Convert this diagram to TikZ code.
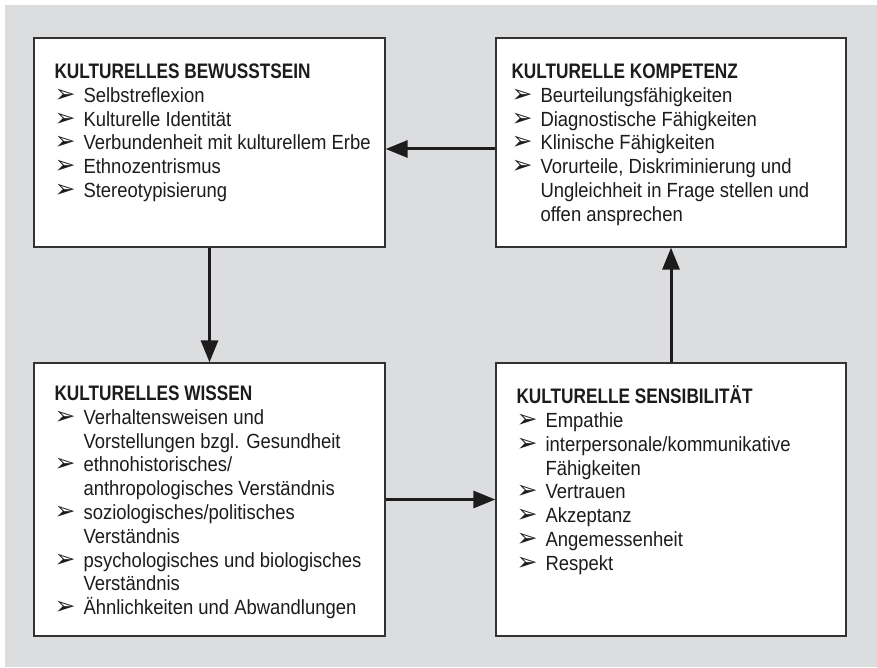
\documentclass[tikz,border=0pt]{standalone}
\usepackage{fontspec}
\setmainfont{Liberation Sans}[FakeStretch=0.9]
\newfontfamily\titelfont{Liberation Sans}[FakeStretch=0.82]
\newfontfamily\pfeilfont{DejaVu Sans}
\usetikzlibrary{positioning,arrows.meta}
\definecolor{hintergrund}{RGB}{220,221,223}
\definecolor{rahmen}{RGB}{50,50,50}
\definecolor{schrift}{RGB}{30,27,28}
\newcommand{\punkt}{\makebox[29pt][l]{\pfeilfont\fontsize{25}{23.8}\selectfont ➢}}
\newcommand{\weiter}{\hspace*{29pt}}
\newcommand{\titel}[1]{\strut{\titelfont\bfseries\fontsize{21}{23.8}\selectfont #1}}

\begin{document}
\begin{tikzpicture}[x=1pt,y=1pt,
    kasten/.style={draw=rahmen, line width=1.3pt, fill=white, inner sep=0pt},
    liste/.style={align=left, inner sep=0pt, text=schrift,
      font=\fontsize{20.5}{23.8}\selectfont},
    pfeil/.style={draw=schrift, line width=3pt,
      -{Triangle[length=22pt,width=17pt]}}]
  \fill[hintergrund] (5,0) rectangle (877,662);
  \useasboundingbox (0,0) rectangle (877,667);

  \node[kasten, minimum width=351pt, minimum height=209pt] (bewusstsein) at (209.5,524.5) {};
  \node[kasten, minimum width=350pt, minimum height=209pt] (kompetenz) at (671,524.5) {};
  \node[kasten, minimum width=351pt, minimum height=273pt] (wissen) at (209.5,167.5) {};
  \node[kasten, minimum width=350pt, minimum height=273pt] (sensibilitaet) at (671,167.5) {};

  \node[liste, below right=24.3pt and 21pt of bewusstsein.north west] (bewusstseintext) {%
    \titel{KULTURELLES BEWUSSTSEIN}\\
    \punkt Selbstreflexion\\
    \punkt Kulturelle Identität\\
    \punkt Verbundenheit mit kulturellem Erbe\\
    \punkt Ethnozentrismus\\
    \punkt Stereotypisierung};
  \node[liste, below right=24.3pt and 16pt of kompetenz.north west] (kompetenztext) {%
    \titel{KULTURELLE KOMPETENZ}\\
    \punkt Beurteilungsfähigkeiten\\
    \punkt Diagnostische Fähigkeiten\\
    \punkt Klinische Fähigkeiten\\
    \punkt Vorurteile, Diskriminierung und\\
    \weiter Ungleichheit in Frage stellen und\\
    \weiter offen ansprechen};
  \node[liste, below right=21.3pt and 21pt of wissen.north west] (wissentext) {%
    \titel{KULTURELLES WISSEN}\\
    \punkt Verhaltensweisen und\\
    \weiter Vorstellungen bzgl. Gesundheit\\
    \punkt ethnohistorisches/\\
    \weiter anthropologisches Verständnis\\
    \punkt soziologisches/politisches\\
    \weiter Verständnis\\
    \punkt psychologisches und biologisches\\
    \weiter Verständnis\\
    \punkt Ähnlichkeiten und Abwandlungen};
  \node[liste, below right=23.3pt and 21pt of sensibilitaet.north west] (sensibilitaettext) {%
    \titel{KULTURELLE SENSIBILITÄT}\\
    \punkt Empathie\\
    \punkt interpersonale/kommunikative\\
    \weiter Fähigkeiten\\
    \punkt Vertrauen\\
    \punkt Akzeptanz\\
    \punkt Angemessenheit\\
    \punkt Respekt};

  \draw[pfeil] ([yshift=-6.5pt]kompetenz.west) -- ([yshift=-6.5pt]bewusstsein.east);
  \draw[pfeil] (bewusstsein.south) -- (wissen.north);
  \draw[pfeil] (wissen.east) -- (sensibilitaet.west);
  \draw[pfeil] (sensibilitaet.north) -- (kompetenz.south);
\end{tikzpicture}
\end{document}
